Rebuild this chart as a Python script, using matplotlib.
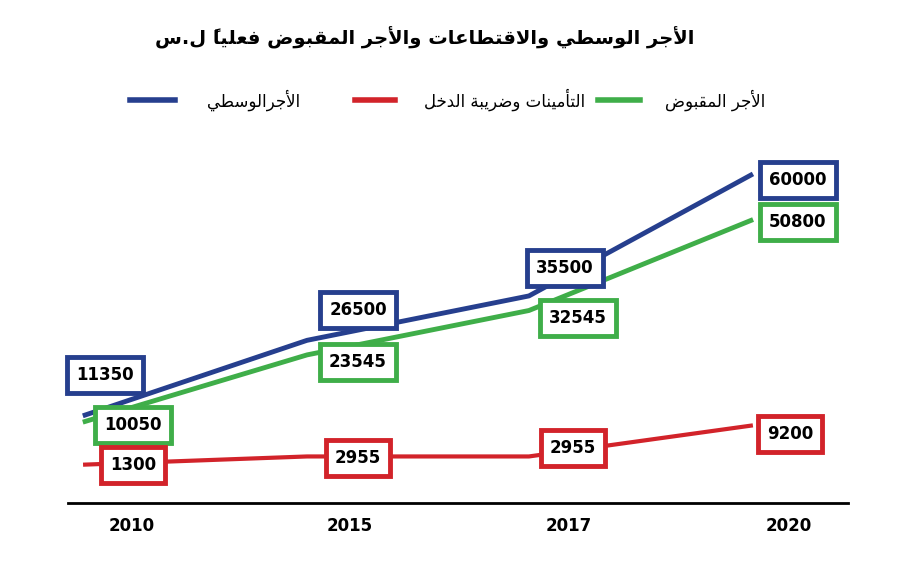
import matplotlib
matplotlib.use("Agg")
import matplotlib.pyplot as plt

years = ["2010", "2015", "2017", "2020"]
avg_wage = [11350, 26500, 35500, 60000]
net_wage = [10050, 23545, 32545, 50800]
deductions = [1300, 2955, 2955, 9200]

title = "الأجر الوسطي والاقتطاعات والأجر المقبوض فعلياً ل.س"
lbl_avg = "الأجرالوسطي"
lbl_ded = "التأمينات وضريبة الدخل"
lbl_net = "الأجر المقبوض"

FORMS = {
 'ا':(0xFE8D,0xFE8E,None,None),'أ':(0xFE83,0xFE84,None,None),
 'ب':(0xFE8F,0xFE90,0xFE91,0xFE92),'ة':(0xFE93,0xFE94,None,None),
 'ت':(0xFE95,0xFE96,0xFE97,0xFE98),'ج':(0xFE9D,0xFE9E,0xFE9F,0xFEA0),
 'خ':(0xFEA5,0xFEA6,0xFEA7,0xFEA8),'د':(0xFEA9,0xFEAA,None,None),
 'ر':(0xFEAD,0xFEAE,None,None),'س':(0xFEB1,0xFEB2,0xFEB3,0xFEB4),
 'ض':(0xFEBD,0xFEBE,0xFEBF,0xFEC0),'ط':(0xFEC1,0xFEC2,0xFEC3,0xFEC4),
 'ع':(0xFEC9,0xFECA,0xFECB,0xFECC),'ف':(0xFED1,0xFED2,0xFED3,0xFED4),
 'ق':(0xFED5,0xFED6,0xFED7,0xFED8),'ل':(0xFEDD,0xFEDE,0xFEDF,0xFEE0),
 'م':(0xFEE1,0xFEE2,0xFEE3,0xFEE4),'ن':(0xFEE5,0xFEE6,0xFEE7,0xFEE8),
 'و':(0xFEED,0xFEEE,None,None),'ي':(0xFEF1,0xFEF2,0xFEF3,0xFEF4),
 'ه':(0xFEE9,0xFEEA,0xFEEB,0xFEEC),
 'ﻻ':(0xFEFB,0xFEFC,None,None),'ﻷ':(0xFEF7,0xFEF8,None,None),
}
TRANSPARENT = {'\u064B'}

def shape(s):
    s = s.replace('لا', 'ﻻ').replace('لأ', 'ﻷ')
    chars = list(s)
    out = []
    n = len(chars)
    def neighbor(i, step):
        j = i + step
        while 0 <= j < n and chars[j] in TRANSPARENT:
            j += step
        return chars[j] if 0 <= j < n else None
    for i, c in enumerate(chars):
        if c not in FORMS:
            out.append(c); continue
        p = neighbor(i, -1); q = neighbor(i, 1)
        jp = p in FORMS and FORMS[p][2] is not None
        jn = q in FORMS and FORMS[c][2] is not None
        iso, fin, ini, med = FORMS[c]
        if jp and jn: f = med
        elif jp: f = fin
        elif jn: f = ini
        else: f = iso
        out.append(chr(f))
    return ''.join(reversed(out))

plt.rcParams['font.family'] = ['DejaVu Sans']
fig = plt.figure(figsize=(9, 5.64), dpi=100)
ax = fig.add_axes([0.0756, 0.108, 0.8664, 0.644])
x = [0, 1, 2, 3]
blue, green, red = '#263f8e', '#3fae49', '#d2232a'
ax.plot(x, avg_wage, color=blue, lw=3.5, solid_joinstyle='round')
ax.plot(x, net_wage, color=green, lw=3.5, solid_joinstyle='round')
ax.plot(x, deductions, color=red, lw=3, solid_joinstyle='round')
ax.set_xlim(-0.077, 3.437)
ax.set_ylim(-6500, 67140)

def px2data(px, py):
    return (px - 85) / 222.0, (471 - py) / 0.00493

boxes = [
    (avg_wage, blue, [(105, 375), (358, 310), (565, 268), (798, 180)]),
    (net_wage, green, [(133, 425), (358, 362), (578, 318), (798, 222)]),
    (deductions, red, [(133, 465), (358, 458), (573, 448), (790, 434)]),
]
for vals, col, pos in boxes:
    for v, (px, py) in zip(vals, pos):
        dx, dy = px2data(px, py)
        ax.text(dx, dy, str(v), ha='center', va='center', fontsize=12,
                fontweight='bold', color='black',
                bbox=dict(boxstyle='square,pad=0.55', fc='white', ec=col, lw=3.5))

for s in ['top', 'right', 'left']:
    ax.spines[s].set_visible(False)
ax.spines['bottom'].set_linewidth(2)
ax.set_yticks([])
ax.set_xticks([0.21, 1.19, 2.18, 3.17])
ax.set_xticklabels(years, fontsize=12, fontweight='bold')
ax.tick_params(axis='x', length=0, pad=10)

fig.text(425/900, 1-38/564, shape(title), ha='center', va='center', fontsize=14, fontweight='bold')
ly = 1 - 100/564
for (x0, x1), col in [((130, 175), blue), ((355, 395), red), ((598, 640), green)]:
    fig.add_artist(plt.Line2D([x0/900, x1/900], [ly, ly], color=col, lw=4))
fig.text(300/900, ly, shape(lbl_avg), ha='right', va='center', fontsize=12)
fig.text(585/900, ly, shape(lbl_ded), ha='right', va='center', fontsize=12)
fig.text(765/900, ly, shape(lbl_net), ha='right', va='center', fontsize=12)

fig.savefig('out.png', dpi=100)
